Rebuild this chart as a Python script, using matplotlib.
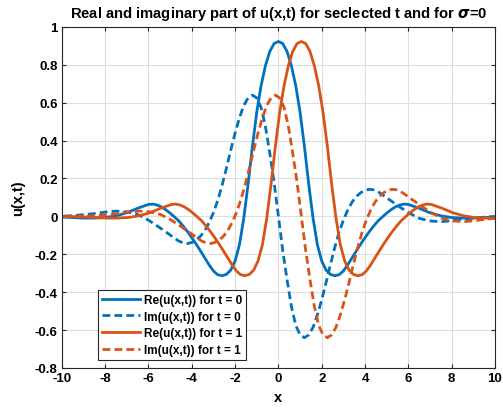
import numpy as np
import matplotlib
matplotlib.use('Agg')
import matplotlib.pyplot as plt

plt.rcParams['font.family'] = ['Liberation Sans', 'DejaVu Sans']
plt.rcParams['font.weight'] = 'bold'
plt.rcParams['axes.unicode_minus'] = False

# right half of the t = 0 profile (x >= 0)
x_half = [0, 0.2, 0.4, 0.6, 0.8, 1.0, 1.2, 1.4, 1.6, 1.8, 2.0, 2.2, 2.4, 2.6, 2.8,
          3.0, 3.2, 3.4, 3.6, 3.8, 4.0, 4.2, 4.4, 4.6, 4.8, 5.0, 5.2, 5.4, 5.6,
          5.8, 6.0, 6.5, 7.0, 7.5, 8.0, 8.5, 9.0, 9.5, 10.0, 10.5, 11.0]

# Re is even in x
re_half = [0.923, 0.912, 0.87, 0.795, 0.69, 0.55, 0.37, 0.17, -0.01, -0.15, -0.235,
           -0.283, -0.306, -0.313, -0.308, -0.288, -0.256, -0.219, -0.182, -0.146,
           -0.112, -0.080, -0.051, -0.024, -0.003, 0.017, 0.035, 0.05, 0.06, 0.065,
           0.063, 0.043, 0.019, 0.003, -0.006, -0.009, -0.009, -0.006, -0.003,
           -0.001, 0.0]

# Im is odd in x
im_half = [0.0, -0.18, -0.335, -0.475, -0.575, -0.625, -0.64, -0.625, -0.585, -0.52,
           -0.44, -0.35, -0.255, -0.165, -0.085, -0.02, 0.033, 0.075, 0.105, 0.125,
           0.138, 0.143, 0.14, 0.13, 0.115, 0.098, 0.082, 0.066, 0.05, 0.035, 0.02,
           -0.01, -0.024, -0.028, -0.023, -0.015, -0.009, -0.004, -0.001, 0.0, 0.0]

x_t0 = [-v for v in x_half[:0:-1]] + x_half
re_t0 = re_half[:0:-1] + re_half
im_t0 = [-v for v in im_half[:0:-1]] + im_half

# at t = 1 the same profile sits about one unit to the right
t1_shift = 1.06
x_t1 = np.array(x_t0) + t1_shift
re_t1 = re_t0
im_t1 = im_t0

blue = '#0072BD'
orange = '#D95319'
dash = (2.8, 1.5)

fig = plt.figure(figsize=(5.03, 4.10), dpi=100)
ax = fig.add_axes([0.123, 0.1, 0.861, 0.832])

ax.plot(x_t0, re_t0, color=blue, lw=2, label='Re(u(x,t)) for t = 0')
ax.plot(x_t0, im_t0, color=blue, lw=2, dashes=dash, label='Im(u(x,t)) for t = 0')
ax.plot(x_t1, re_t1, color=orange, lw=2, label='Re(u(x,t)) for t = 1')
ax.plot(x_t1, im_t1, color=orange, lw=2, dashes=dash, label='Im(u(x,t)) for t = 1')

ax.set_xlim(-10, 10)
ax.set_ylim(-0.8, 1)
ax.set_xticks(np.arange(-10, 11, 2))
yt = [-0.8, -0.6, -0.4, -0.2, 0, 0.2, 0.4, 0.6, 0.8, 1]
ax.set_yticks(yt)
ax.set_yticklabels(['%g' % v for v in yt])
ax.grid(True, color='#dedede', lw=0.8)
ax.set_axisbelow(True)
ax.tick_params(direction='in', length=3, width=0.8, colors='#262626', labelsize=9.5,
               top=True, right=True, pad=3)
for lbl in ax.get_xticklabels() + ax.get_yticklabels():
    lbl.set_fontweight('bold')
    lbl.set_color('black')
for s in ax.spines.values():
    s.set_color('#262626')
    s.set_linewidth(0.8)

ax.set_title('Real and imaginary part of u(x,t) for seclected t and for $\\sigma$=0',
             fontsize=10.6, fontweight='bold', pad=7)
ax.set_xlabel('x', fontsize=10.5, fontweight='bold', labelpad=4)
ax.set_ylabel('u(x,t)', fontsize=10.5, fontweight='bold', labelpad=7)

leg = ax.legend(loc='lower left', bbox_to_anchor=(0.084, 0.023), borderaxespad=0,
                fontsize=8.5, handlelength=3.2, handletextpad=0.3, borderpad=0.35,
                labelspacing=0.4, fancybox=False, framealpha=1, edgecolor='#262626')
leg.get_frame().set_linewidth(0.8)
for t in leg.get_texts():
    t.set_fontweight('bold')

fig.savefig('out.png', dpi=100)
